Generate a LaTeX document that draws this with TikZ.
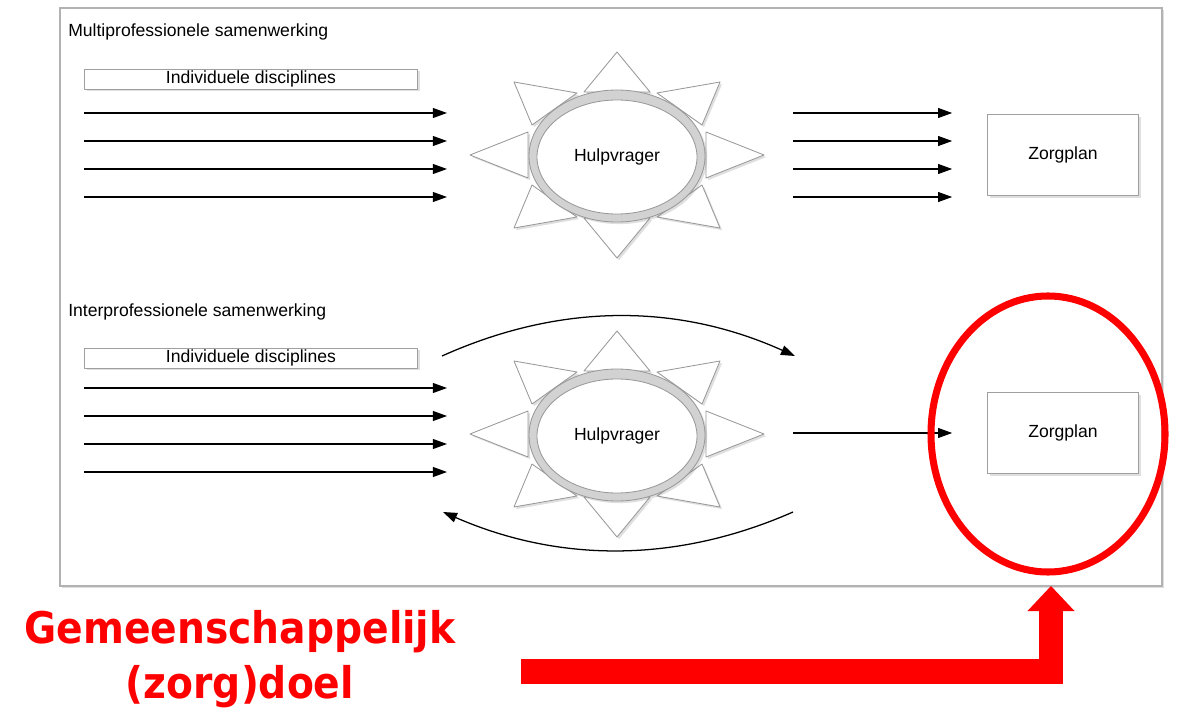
\documentclass[tikz,border=0pt]{standalone}
\usepackage{fontspec}
\setmainfont{Liberation Sans}
\newfontfamily\doelfont{DejaVu Sans Condensed}
\usetikzlibrary{arrows.meta,shadows,calc}

\tikzset{
    schaduw/.style={drop shadow={opacity=0.25,shadow xshift=1.5pt,shadow yshift=-1.5pt}},
    tekst/.style={font=\fontsize{12.5}{15}\selectfont},
    kop/.style={tekst,anchor=west,inner sep=0pt},
    balk/.style={tekst,draw=gray!75,fill=white,inner sep=0pt,
        minimum width=8.325cm,minimum height=0.5cm,schaduw},
    plan/.style={tekst,draw=gray!75,fill=white,inner sep=0pt,
        minimum width=3.775cm,minimum height=2.025cm,schaduw},
    pijl/.style={-{Triangle[length=10pt,width=7pt]},line width=0.9pt},
    straal/.style={draw=gray!80,line width=0.6pt,fill=white,line join=round,schaduw},
    ring/.style={draw=gray!80,line width=0.6pt,fill=gray!35,schaduw},
    rood/.style={red,line width=5pt},
    pics/zon/.style={code={
        % stralen
        \foreach \s in {1,-1} {
            \draw[straal] (0,\s*103) -- (-33,\s*63) -- (33,\s*63) -- cycle;
            \draw[straal] (\s*147,0) -- (\s*89,-23) -- (\s*89,23) -- cycle;
            \foreach \t in {1,-1}
                \draw[straal] (\s*103,\t*73) -- (\s*40,\t*62) -- (\s*85,\t*30) -- cycle;
        }
        % ring en kern
        \filldraw[ring] (0,1) ellipse [x radius=88, y radius=66];
        \filldraw[draw=gray!80,line width=0.6pt,fill=white] (0,2) ellipse [x radius=80, y radius=57];
    }}
}

\begin{document}
\begin{tikzpicture}[x=0.025cm,y=-0.025cm]
    \useasboundingbox (0,0) rectangle (1178,708);
    % kader
    \draw[gray!60,line width=0.8pt,fill=white,schaduw] (60,8) rectangle (1162,586);
    \coordinate (kaderpunt) at (1051,586);

    % multiprofessioneel
    \node[kop] (multi) at (68,32) {Multiprofessionele samenwerking};
    \node[balk] (ind1) at (251,79) {Individuele disciplines};
    \pic at (617,155) {zon};
    \node[tekst] (hulp1) at (617,157) {Hulpvrager};
    \node[plan] (zorg1) at (1063,155) {Zorgplan};
    \foreach \y in {113,141,169,197} {
        \draw[pijl] (ind1.west |- 0,\y) -- ($(hulp1.center |- 0,\y)+(-170,0)$);
        \draw[pijl] ($(hulp1.center |- 0,\y)+(176,0)$) -- ($(zorg1.west |- 0,\y)+(-35,0)$);
    }

    % interprofessioneel
    \node[kop] (inter) at (68,312) {Interprofessionele samenwerking};
    \node[balk] (ind2) at (251,358) {Individuele disciplines};
    \pic at (617,434) {zon};
    \node[tekst] (hulp2) at (617,436) {Hulpvrager};
    \node[plan] (zorg2) at (1063,433) {Zorgplan};
    \foreach \y in {388,416,444,472}
        \draw[pijl] (ind2.west |- 0,\y) -- ($(hulp2.center |- 0,\y)+(-170,0)$);
    \draw[pijl] ($(hulp2.center |- zorg2.west)+(176,0)$) -- ($(zorg2.west)+(-35,0)$);
    % bogen
    \coordinate (boogA) at (442,356);
    \coordinate (boogB) at (795,356);
    \coordinate (boogC) at (793,512);
    \coordinate (boogD) at (443,512);
    \draw[pijl] (boogA) .. controls (560,303) and (677,303) .. (boogB);
    \draw[pijl] (boogC) .. controls (677,563) and (560,563) .. (boogD);

    % gemeenschappelijk doel
    \draw[rood] (1048,434) ellipse [x radius=117, y radius=138];
    \node[red,align=center,inner sep=0pt,anchor=north,
        font=\doelfont\bfseries\fontsize{31}{39}\selectfont] (doel) at (240,610)
        {Gemeenschappelijk\\(zorg)doel};
    \coordinate (doelstart) at (521,671.5);
    \draw[red,line width=0.6cm,
        -{Triangle[width=1.175cm,length=0.625cm,line width=0pt]}]
        (doelstart) -| (kaderpunt);
\end{tikzpicture}
\end{document}
